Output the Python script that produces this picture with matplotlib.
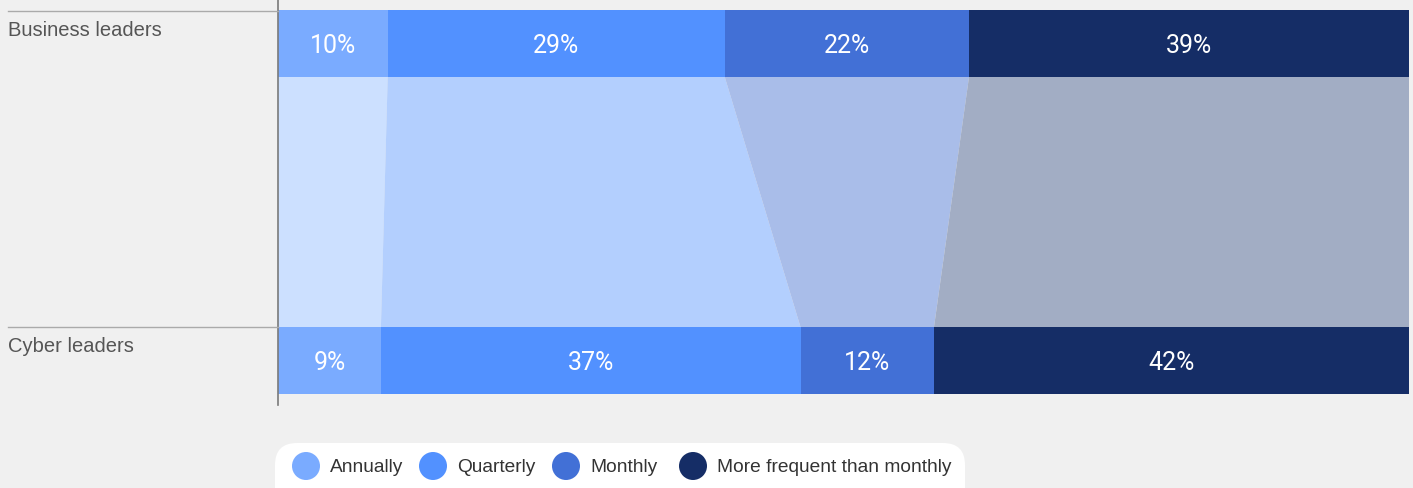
import numpy as np
import matplotlib
matplotlib.use('Agg')
import matplotlib.pyplot as plt
from matplotlib.patches import Polygon, FancyBboxPatch, Circle

plt.rcParams['font.family'] = ['Liberation Sans', 'DejaVu Sans']

# data
groups = ['Business leaders', 'Cyber leaders']
categories = ['Annually', 'Quarterly', 'Monthly', 'More frequent than monthly']
business = [9.7, 29.8, 21.6, 38.9]
cyber = [9.1, 37.1, 11.8, 42.0]
business_labels = ['10%', '29%', '22%', '39%']
cyber_labels = ['9%', '37%', '12%', '42%']

colors = ['#7aabff', '#5291ff', '#4270d6', '#152d66']
light_colors = ['#cce0ff', '#b3cffe', '#a9bde9', '#a2adc4']
bg = '#f0f0f0'

W, H = 1413, 488
fig = plt.figure(figsize=(W / 100, H / 100), dpi=100, facecolor=bg)

# main axes: x in percent, y spans the whole figure height
ax = fig.add_axes([278 / W, 0, (1409 - 278) / W, 1])
ax.set_facecolor(bg)
ax.set_xlim(0, 100)
ax.set_ylim(1.402, -0.137)
bar_h = 67 / 317
for s in ax.spines.values():
    s.set_visible(False)
ax.set_xticks([])
ax.set_yticks([])

rows = [business, cyber]
labels = [business_labels, cyber_labels]
lefts = [np.concatenate([[0], np.cumsum(r)[:-1]]) for r in rows]

# connectors between the two bars
y_top = 0 + bar_h / 2
y_bot = 1 - bar_h / 2
for i in range(len(categories)):
    l0, r0 = lefts[0][i], lefts[0][i] + rows[0][i]
    l1, r1 = lefts[1][i], lefts[1][i] + rows[1][i]
    poly = Polygon([[l0, y_top], [r0, y_top], [r1, y_bot], [l1, y_bot]],
                   closed=True, facecolor=light_colors[i], edgecolor='none')
    ax.add_patch(poly)

for yi, (r, lab, lf) in enumerate(zip(rows, labels, lefts)):
    ax.barh(yi, r, left=lf, height=bar_h, color=colors, edgecolor='none')
    for i in range(len(r)):
        ax.text(lf[i] + r[i] / 2, yi + 0.008, lab[i], ha='center', va='center',
                color='white', fontsize=18, family=['Roboto', 'DejaVu Sans'])

# overlay axes in pixel coordinates for axis line, rules, labels, legend
ov = fig.add_axes([0, 0, 1, 1])
ov.set_xlim(0, W)
ov.set_ylim(H, 0)
ov.axis('off')
ov.patch.set_alpha(0)

ov.plot([278, 278], [0, 405], color='#7a7a7a', lw=1.2)
ov.plot([8, 278], [11, 11], color='#aaaaaa', lw=1)
ov.plot([8, 278], [327, 327], color='#aaaaaa', lw=1)
ov.text(8, 30, groups[0], ha='left', va='center', color='#555555', fontsize=14.5)
ov.text(8, 346, groups[1], ha='left', va='center', color='#555555', fontsize=14.5)

# legend
box = FancyBboxPatch((275, 443), 690, 70, boxstyle='round,pad=0,rounding_size=22',
                     facecolor='white', edgecolor='none')
ov.add_patch(box)
marker_x = [306, 433, 566, 693]
for i, c in enumerate(categories):
    ov.add_patch(Circle((marker_x[i], 466), 14, facecolor=colors[i], edgecolor='none'))
    ov.text(marker_x[i] + 24, 467, c, ha='left', va='center', color='#333333', fontsize=13.8)

fig.savefig('out.png', dpi=100, facecolor=bg)
